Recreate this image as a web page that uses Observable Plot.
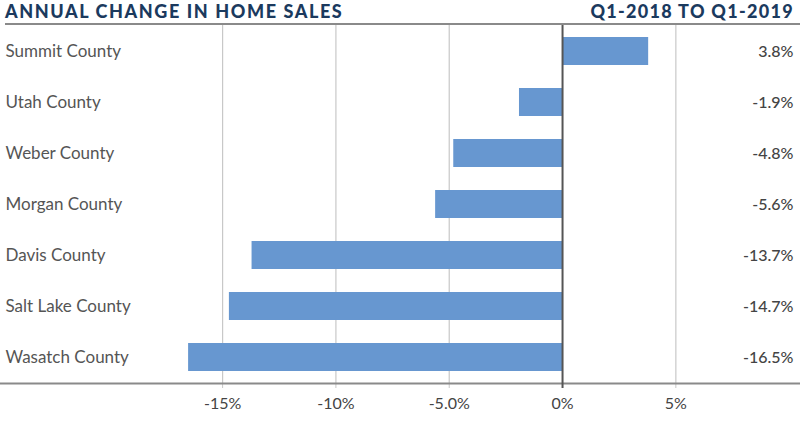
<!DOCTYPE html>
<html><head>
<meta charset="utf-8">
<script src="https://cdn.jsdelivr.net/npm/d3@7"></script>
<script src="https://cdn.jsdelivr.net/npm/@observablehq/plot@0.6"></script>
<style>
body{margin:0;background:#fff;font-family:Lato,sans-serif}
#hdr{display:flex;justify-content:space-between;align-items:flex-end;height:23px;margin-left:5px;width:795px;border-bottom:2px solid #8a8a8a}
#hdr span{font-weight:900;font-size:18px;color:#1b3a5e;letter-spacing:1.6px;line-height:18px;padding-bottom:3px}
</style></head><body>
<div id="hdr"><span>ANNUAL CHANGE IN HOME SALES</span><span style="padding-right:6px;letter-spacing:1.3px">Q1-2018 TO Q1-2019</span></div>
<div id="chart"></div>
<script>
const counties = ["Summit County","Utah County","Weber County","Morgan County","Davis County","Salt Lake County","Wasatch County"];
const changes = [3.8,-1.9,-4.8,-5.6,-13.7,-14.7,-16.5];
const valueLabels = ["3.8%","-1.9%","-4.8%","-5.6%","-13.7%","-14.7%","-16.5%"];
const tickValues = [-15,-10,-5,0,5];
const tickLabels = ["-15%","-10%","-5.0%","0%","5%"];
const gridValues = [-15,-10,-5,5];
const xMin = -24.8, xMax = 10.5;

const data = counties.map((c,i)=>({county:c, change:changes[i], label:valueLabels[i]}));

const chart = Plot.plot({
  width: 800, height: 402,
  marginLeft: 0, marginRight: 0, marginTop: 0, marginBottom: 44,
  style: {fontFamily: "Lato, sans-serif", background: "#fff"},
  x: {domain: [xMin, xMax], range: [0, 800], label: null},
  y: {type: "band", domain: counties, paddingInner: 0.45, paddingOuter: 0.225, axis: null},
  marks: [
    Plot.ruleX(gridValues, {stroke: "#c8c8c8", strokeWidth: 1.2}),
    Plot.axisX({ticks: tickValues, tickFormat: (d)=>tickLabels[tickValues.indexOf(d)], tickSize: 5, tickPadding: 9, stroke: "#c8c8c8", fontSize: 16, fill: "#444", strokeOpacity: 1, label: null}),
    Plot.frame({anchor: "bottom", stroke: "#8a8a8a", strokeWidth: 2}),
    Plot.barX(data, {x1: 0, x2: "change", y: "county", fill: "#6797d0"}),
    Plot.ruleX([0], {stroke: "#555", strokeWidth: 2, insetBottom: -5}),
    Plot.text(data, {x: xMin, y: "county", text: "county", textAnchor: "start", dx: 5, fontSize: 17, fill: "#555", letterSpacing: "0.2px"}),
    Plot.text(data, {x: xMax, y: "county", text: "label", textAnchor: "end", dx: -7, fontSize: 16, fill: "#444", fontWeight: 500, letterSpacing: "0.4px"})
  ]
});
document.getElementById("chart").appendChild(chart);
</script>
</body></html>
